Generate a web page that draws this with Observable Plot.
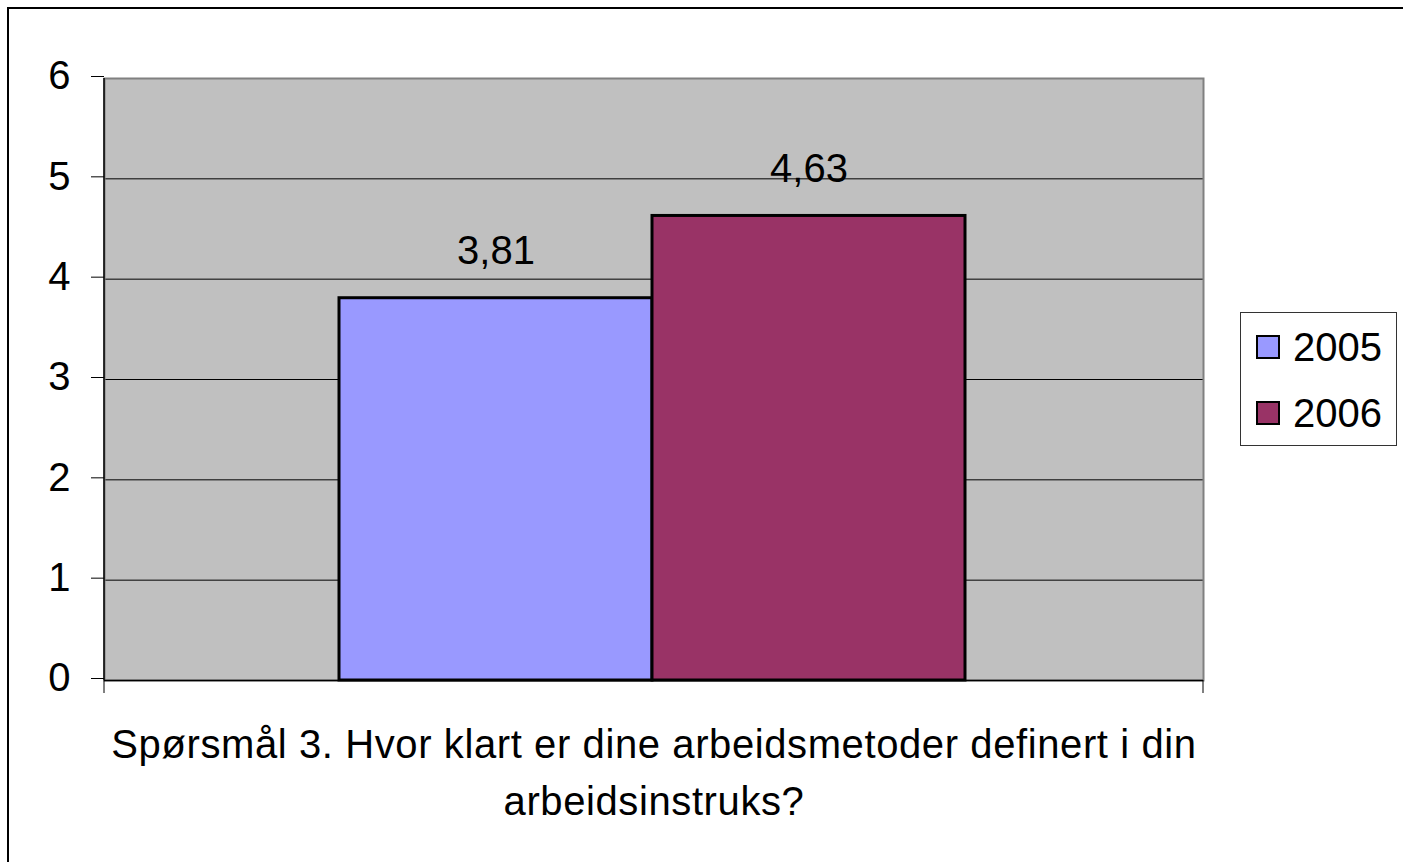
<!DOCTYPE html>
<html>
<head>
<meta charset="utf-8">
<script src="https://cdn.jsdelivr.net/npm/d3@7"></script>
<script src="https://cdn.jsdelivr.net/npm/@observablehq/plot@0.6"></script>
<style>
  html, body { margin: 0; padding: 0; background: #fff; overflow: hidden; width: 1403px; height: 862px; }
  body { position: relative; font-family: "Liberation Sans", Arial, sans-serif; }
  #page { position: absolute; left: 7px; top: 7px; width: 1500px; height: 1000px; border-left: 2px solid #000; border-top: 2px solid #000; }
  #chart { position: absolute; left: 0; top: 0; }
  #legend { position: absolute; left: 1240px; top: 312px; width: 157px; height: 134px; border: 1px solid #333; background: #fff; box-sizing: border-box; }
  .item { position: absolute; left: 15px; display: flex; align-items: center; font-size: 40px; line-height: 1; color: #000; }
  .sw { width: 20px; height: 20px; border: 2px solid #000; margin-right: 13px; }
</style>
</head>
<body>
<div id="page"></div>
<div id="chart"></div>
<div id="legend"></div>
<script>
const years = ["2005", "2006"];
const values = [3.81, 4.63];
const valueLabels = ["3,81", "4,63"];
const colors = ["#9999FF", "#993366"];
const yTicks = [0, 1, 2, 3, 4, 5, 6];
const gridTicks = [1, 2, 3, 4, 5];
const category = "Spørsmål 3. Hvor klart er dine arbeidsmetoder definert i din\narbeidsinstruks?";

const data = years.map((y, i) => ({year: y, value: values[i], label: valueLabels[i]}));

const W = 1403, H = 862, ML = 104, MR = 200, MT = 78, MB = 182;
const FONT = 40;

const chart = Plot.plot({
  width: W,
  height: H,
  marginLeft: ML,
  marginRight: MR,
  marginTop: MT,
  marginBottom: MB,
  style: {fontFamily: '"Liberation Sans", Arial, sans-serif', background: "transparent", color: "#000"},
  x: {type: "band", domain: years, range: [338.5, 965], padding: 0, axis: null},
  y: {domain: [0, 6], axis: null},
  color: {domain: years, range: colors},
  marks: [
    Plot.frame({fill: "#C0C0C0", stroke: null}),
    Plot.gridY(gridTicks, {stroke: "#000", strokeOpacity: 1, strokeWidth: 1}),
    Plot.frame({stroke: "#808080", strokeWidth: 2}),
    Plot.barY(data, {x: "year", y: "value", fill: "year", stroke: "#000", strokeWidth: 3}),
    Plot.text(data, {x: "year", y: "value", text: "label", fontSize: FONT, lineAnchor: "bottom", dy: -34, fill: "#000"}),
    Plot.axisY(yTicks, {tickSize: 13, tickPadding: 21, fontSize: FONT, dy: -2, stroke: "#000", strokeWidth: 1, label: null, tickFormat: d => String(d)}),
    Plot.ruleY([0], {stroke: "#000", strokeWidth: 1.5}),
    Plot.text([category], {frameAnchor: "bottom", lineAnchor: "top", dy: 37, fontSize: FONT, lineHeight: 1.42, textAnchor: "middle", fill: "#000", className: "cat-label"})
  ]
});
document.getElementById("chart").appendChild(chart);

const svg = d3.select(chart);
svg.selectAll(".cat-label text").style("letter-spacing", "0.6px");

// axis line on the left and category boundary ticks below the x-axis
const x0 = ML, x1 = W - MR, yb = H - MB;
svg.append("line").attr("x1", x0).attr("x2", x0).attr("y1", MT).attr("y2", yb).attr("stroke", "#000").attr("stroke-width", 1.5);
[x0, x1].forEach(xx => svg.append("line").attr("x1", xx).attr("x2", xx).attr("y1", yb).attr("y2", yb + 13).attr("stroke", "#000").attr("stroke-width", 1));

// legend
const legend = document.getElementById("legend");
years.forEach((y, i) => {
  const it = document.createElement("div");
  it.className = "item";
  it.style.top = (i === 0 ? 14 : 80) + "px";
  const sw = document.createElement("div");
  sw.className = "sw";
  sw.style.background = colors[i];
  const t = document.createElement("span");
  t.textContent = y;
  it.appendChild(sw);
  it.appendChild(t);
  legend.appendChild(it);
});
</script>
</body>
</html>
